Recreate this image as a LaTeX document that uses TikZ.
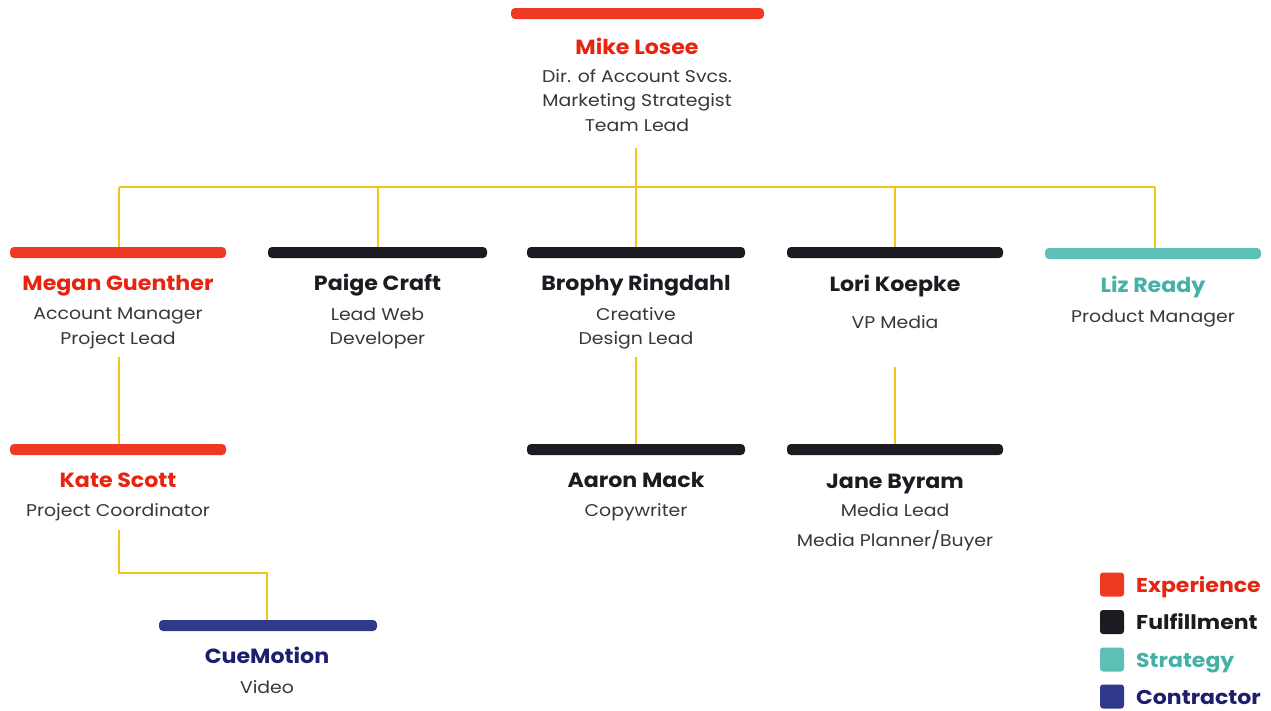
\documentclass[tikz,border=0pt]{standalone}
\usepackage{fontspec}
\setmainfont{Poppins}
\newfontfamily\namefont[FakeStretch=1.08]{Poppins}
\newfontfamily\subfont[FakeStretch=1.11]{Poppins}
\newfontfamily\legfont[FakeStretch=1.1]{Poppins}
\definecolor{expC}{HTML}{EE3A22}
\definecolor{expT}{HTML}{E82310}
\definecolor{fulC}{HTML}{1E1A22}
\definecolor{strC}{HTML}{5CC0B6}
\definecolor{strT}{HTML}{45B0A6}
\definecolor{conC}{HTML}{2F3A8A}
\definecolor{conT}{HTML}{1D1F6E}
\definecolor{subT}{HTML}{383838}
\definecolor{linkC}{HTML}{F2C616}
\tikzset{
  bar/.style={draw=none, fill=#1, rounded corners=4pt, minimum height=11pt, inner sep=0pt},
  nametxt/.style={text=#1, font=\namefont\bfseries\fontsize{20.5}{24}\selectfont, inner sep=0pt, anchor=base},
  subtxt/.style={text=subT, font=\subfont\fontsize{17}{24.5}\selectfont, align=center, inner sep=0pt},
  link/.style={draw=linkC, line width=2pt},
  legbox/.style={fill=#1, rounded corners=3pt, minimum width=24pt, minimum height=24pt, inner sep=0pt},
  legtxt/.style={text=#1, font=\legfont\bfseries\fontsize{20}{24}\selectfont, anchor=base west, inner sep=0pt}
}
\begin{document}
\begin{tikzpicture}[x=1pt,y=-1pt]
\useasboundingbox (0,0) rectangle (1271,710);
\fill[white] (0,0) rectangle (1271,710);
% Top
\node[bar=expC, minimum width=253pt] (mikeBar) at (637.5,13.5) {};
\node[nametxt=expT] (mikeName) at (637,54) {Mike Losee};
\node[subtxt] (mikeSub) at (637,100.5) {Dir. of Account Svcs.\\Marketing Strategist\\Team Lead};
% Level 1
\node[bar=expC, minimum width=216pt] (meganBar) at (118,252.5) {};
\node[nametxt=expT] (meganName) at (118,290) {Megan Guenther};
\node[subtxt] (meganSub) at (118,328.5) {Account Manager\\Project Lead};
\node[bar=fulC, minimum width=219pt] (paigeBar) at (377.5,252.5) {};
\node[nametxt=fulC] (paigeName) at (377.5,290) {Paige Craft};
\node[subtxt] (paigeSub) at (377.5,328.5) {Lead Web\\Developer};
\node[bar=fulC, minimum width=218pt] (brophyBar) at (636,252.5) {};
\node[nametxt=fulC] (brophyName) at (636,290.5) {Brophy Ringdahl};
\node[subtxt] (brophySub) at (636,328.5) {Creative\\Design Lead};
\node[bar=fulC, minimum width=216pt] (loriBar) at (895,252.5) {};
\node[nametxt=fulC] (loriName) at (895,291) {Lori Koepke};
\node[subtxt] (loriSub) at (895,322) {VP Media};
\node[bar=strC, minimum width=216pt] (lizBar) at (1153,253.5) {};
\node[nametxt=strT] (lizName) at (1153,292) {Liz Ready};
\node[subtxt] (lizSub) at (1153,318) {Product Manager};
% Level 2
\node[bar=expC, minimum width=216pt] (kateBar) at (118,449.5) {};
\node[nametxt=expT] (kateName) at (118,487) {Kate Scott};
\node[subtxt] (kateSub) at (118,512) {Project Coordinator};
\node[bar=fulC, minimum width=218pt] (aaronBar) at (636,449.5) {};
\node[nametxt=fulC] (aaronName) at (636,487.5) {Aaron Mack};
\node[subtxt] (aaronSub) at (636,512) {Copywriter};
\node[bar=fulC, minimum width=216pt] (janeBar) at (895,449.5) {};
\node[nametxt=fulC] (janeName) at (895,488) {Jane Byram};
\node[subtxt, font=\subfont\fontsize{17}{30}\selectfont] (janeSub) at (895,527) {Media Lead\\Media Planner/Buyer};
% Level 3
\node[bar=conC, minimum width=218pt] (cueBar) at (268,625.5) {};
\node[nametxt=conT] (cueName) at (267,663) {CueMotion};
\node[subtxt] (cueSub) at (267,687) {Video};
% Connectors
\coordinate (mikeOut) at (636,148);
\coordinate (busL) at (119,187);
\coordinate (busR) at (1155,187);
\draw[link] (mikeOut) -- (636,187);
\draw[link] (busL) -- (busR);
\draw[link] (busL) -- (meganBar.north -| busL);
\draw[link] (paigeBar.north |- busL) -- (paigeBar.north);
\draw[link] (brophyBar.north |- busL) -- (brophyBar.north);
\draw[link] (loriBar.north |- busL) -- (loriBar.north);
\draw[link] (busR) -- (lizBar.north -| busR);
\coordinate (meganOut) at (119,357);
\draw[link] (meganOut) -- (kateBar.north -| meganOut);
\coordinate (brophyOut) at (636,357);
\draw[link] (brophyOut) -- (aaronBar.north -| brophyOut);
\coordinate (loriOut) at (895,367);
\draw[link] (loriOut) -- (janeBar.north -| loriOut);
\coordinate (kateOut) at (119,530);
\coordinate (cueIn) at (267,620);
\draw[link] (kateOut) |- (267,573) -- (cueIn);
% Legend
\node[legbox=expC] (legExp) at (1112,584.5) {};
\node[legtxt=expT] (legExpT) at (1136,592) {Experience};
\node[legbox=fulC] (legFul) at (1112,622) {};
\node[legtxt=fulC] (legFulT) at (1136,629.5) {Fulfillment};
\node[legbox=strC] (legStr) at (1112,659.5) {};
\node[legtxt=strT] (legStrT) at (1136,667) {Strategy};
\node[legbox=conC] (legCon) at (1112,696.5) {};
\node[legtxt=conT] (legConT) at (1136,704) {Contractor};
\end{tikzpicture}
\end{document}
